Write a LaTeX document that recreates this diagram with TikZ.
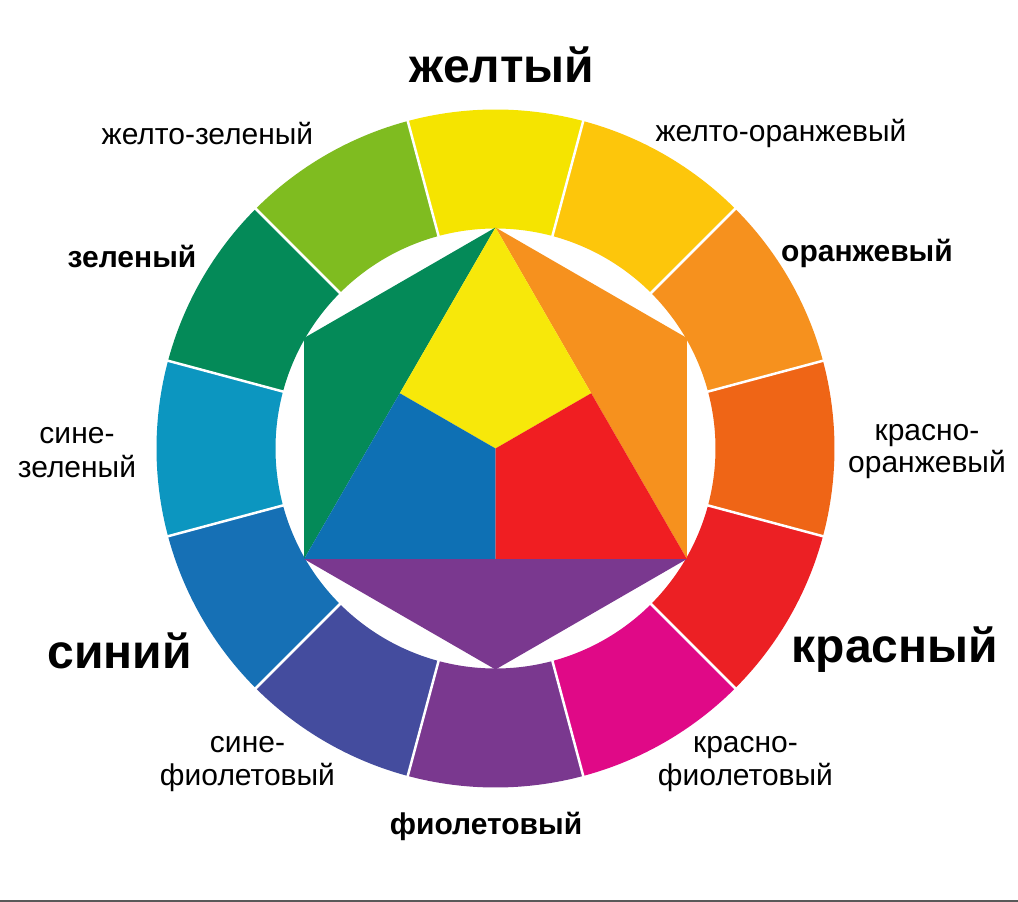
\documentclass[tikz,border=0pt]{standalone}
\usepackage{fontspec}
\setmainfont{Liberation Sans}
\usepackage{tikz}

\definecolor{yel}{RGB}{245,228,0}
\definecolor{yelora}{RGB}{253,198,11}
\definecolor{ora}{RGB}{246,145,30}
\definecolor{redora}{RGB}{239,101,22}
\definecolor{cred}{RGB}{236,32,36}
\definecolor{redvio}{RGB}{224,9,135}
\definecolor{vio}{RGB}{122,56,143}
\definecolor{bluvio}{RGB}{68,76,158}
\definecolor{blu}{RGB}{22,112,181}
\definecolor{blugre}{RGB}{12,150,192}
\definecolor{gre}{RGB}{4,138,88}
\definecolor{yelgre}{RGB}{127,188,32}
\definecolor{innyel}{RGB}{247,232,10}
\definecolor{innblu}{RGB}{14,112,180}
\definecolor{innred}{RGB}{240,30,34}

\begin{document}
\begin{tikzpicture}[x = 1pt, y = 1pt,
        lbl/.style = {anchor = base, font = \fontsize{30}{33}\selectfont},
        lblbold/.style = {anchor = base, font = \fontsize{30}{33}\selectfont\bfseries},
        lblbig/.style = {anchor = base, font = \fontsize{48}{52}\selectfont\bfseries},
        seam/.style = {white, line width = 2.5pt}]
        \fill[white] (-495.5,-453.5) rectangle (522.5,448.5);
        \useasboundingbox (-495.5,-453.5) rectangle (522.5,448.5);
        % outer ring of twelve colours
        \foreach \a/\c in {90/yel, 60/yelora, 30/ora, 0/redora, -30/cred, -60/redvio,
                -90/vio, -120/bluvio, -150/blu, 180/blugre, 150/gre, 120/yelgre}
          \fill[\c] (\a-15:339) arc[start angle = \a-15, end angle = \a+15, radius = 339]
            -- (\a+15:220) arc[start angle = \a+15, end angle = \a-15, radius = 220] -- cycle;
        \foreach \a in {15, 45, ..., 345}
          \draw[seam] (\a:218) -- (\a:341);
        % hexagon and triangle
        \coordinate (Y) at (90:221);
        \coordinate (O) at (30:221);
        \coordinate (R) at (-30:221);
        \coordinate (V) at (-90:221);
        \coordinate (B) at (-150:221);
        \coordinate (G) at (150:221);
        \coordinate (YR) at (30:110.5);
        \coordinate (RB) at (-90:110.5);
        \coordinate (BY) at (150:110.5);
        \coordinate (C) at (0,0);
        \fill[gre] (Y) -- (G) -- (B) -- cycle;
        \fill[ora] (Y) -- (O) -- (R) -- cycle;
        \fill[vio] (B) -- (V) -- (R) -- cycle;
        \fill[innyel] (Y) -- (YR) -- (C) -- (BY) -- cycle;
        \fill[innred] (R) -- (RB) -- (C) -- (YR) -- cycle;
        \fill[innblu] (B) -- (BY) -- (C) -- (RB) -- cycle;
        % labels
        \node[lblbig] (yellow) at (6.5,365.5) {желтый};
        \node[lbl] (yellowgreen) at (-288,303.5) {желто-зеленый};
        \node[lbl] (yelloworange) at (285.5,306.5) {желто-оранжевый};
        \node[lblbold] (green) at (-363.5,180.5) {зеленый};
        \node[lblbold] (orange) at (371.5,186.5) {оранжевый};
        \node[lbl] (bluegreen1) at (-418.5,4.5) {сине-};
        \node[lbl] (bluegreen2) at (-418.5,-29.5) {зеленый};
        \node[lbl] (redorange1) at (431.5,7.5) {красно-};
        \node[lbl] (redorange2) at (431.5,-24.5) {оранжевый};
        \node[lblbig] (blue) at (-376,-219.5) {синий};
        \node[lblbig] (red) at (399.5,-213.5) {красный};
        \node[lbl] (blueviolet1) at (-248,-303.5) {сине-};
        \node[lbl] (blueviolet2) at (-248,-336.5) {фиолетовый};
        \node[lbl] (redviolet1) at (250,-303.5) {красно-};
        \node[lbl] (redviolet2) at (250,-336.5) {фиолетовый};
        \node[lblbold] (violet) at (-9.5,-385.5) {фиолетовый};
        \fill[black!65] (-495.5,-453.5) rectangle (522.5,-451.5);
      \end{tikzpicture}
\end{document}
